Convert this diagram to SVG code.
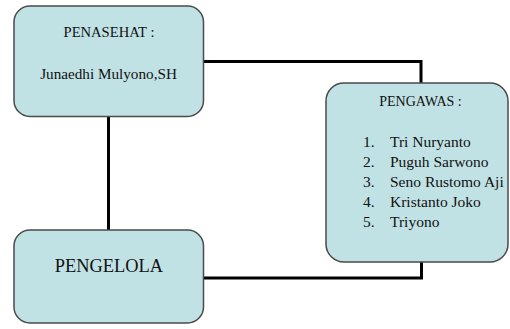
<svg xmlns="http://www.w3.org/2000/svg" width="510" height="329" viewBox="0 0 510 329">
<style>
.box{fill:#c1e2e5;stroke:#4a4a4a;stroke-width:1.5}
.conn{fill:none;stroke:#000;stroke-width:3}
text{fill:#111}
.c{text-anchor:middle}
</style>
<rect width="510" height="329" fill="#fff"/>
<g id="connectors">
<polyline class="conn" points="204,61.5 421,61.5 421,83"/>
<line class="conn" x1="108.5" y1="117" x2="108.5" y2="230"/>
<polyline class="conn" points="204,278 421.5,278 421.5,262"/>
</g>
<g font-family="'Liberation Serif', 'DejaVu Serif', serif">
<g id="penasehat">
<rect class="box" x="14" y="6" width="189.5" height="110.5" rx="16"/>
<text class="c" x="109" y="37.3" font-size="14.6">PENASEHAT :</text>
<text class="c" x="108.5" y="78.5" font-size="15.2">Junaedhi Mulyono,SH</text>
</g>
<g id="pengawas">
<rect class="box" x="326" y="83" width="182" height="179" rx="18"/>
<text class="c" x="420.5" y="106" font-size="14">PENGAWAS :</text>
<g font-size="15.5">
<text x="363" y="146.7">1.</text><text x="390" y="146.7">Tri Nuryanto</text>
<text x="363" y="166.7">2.</text><text x="390" y="166.7">Puguh Sarwono</text>
<text x="363" y="186.7">3.</text><text x="390" y="186.7">Seno Rustomo Aji</text>
<text x="363" y="206.7">4.</text><text x="390" y="206.7">Kristanto Joko</text>
<text x="363" y="226.7">5.</text><text x="390" y="226.7">Triyono</text>
</g>
</g>
<g id="pengelola">
<rect class="box" x="14" y="230" width="189.5" height="93" rx="16"/>
<text class="c" x="109" y="272.3" font-size="18.4">PENGELOLA</text>
</g>
</g>
</svg>
